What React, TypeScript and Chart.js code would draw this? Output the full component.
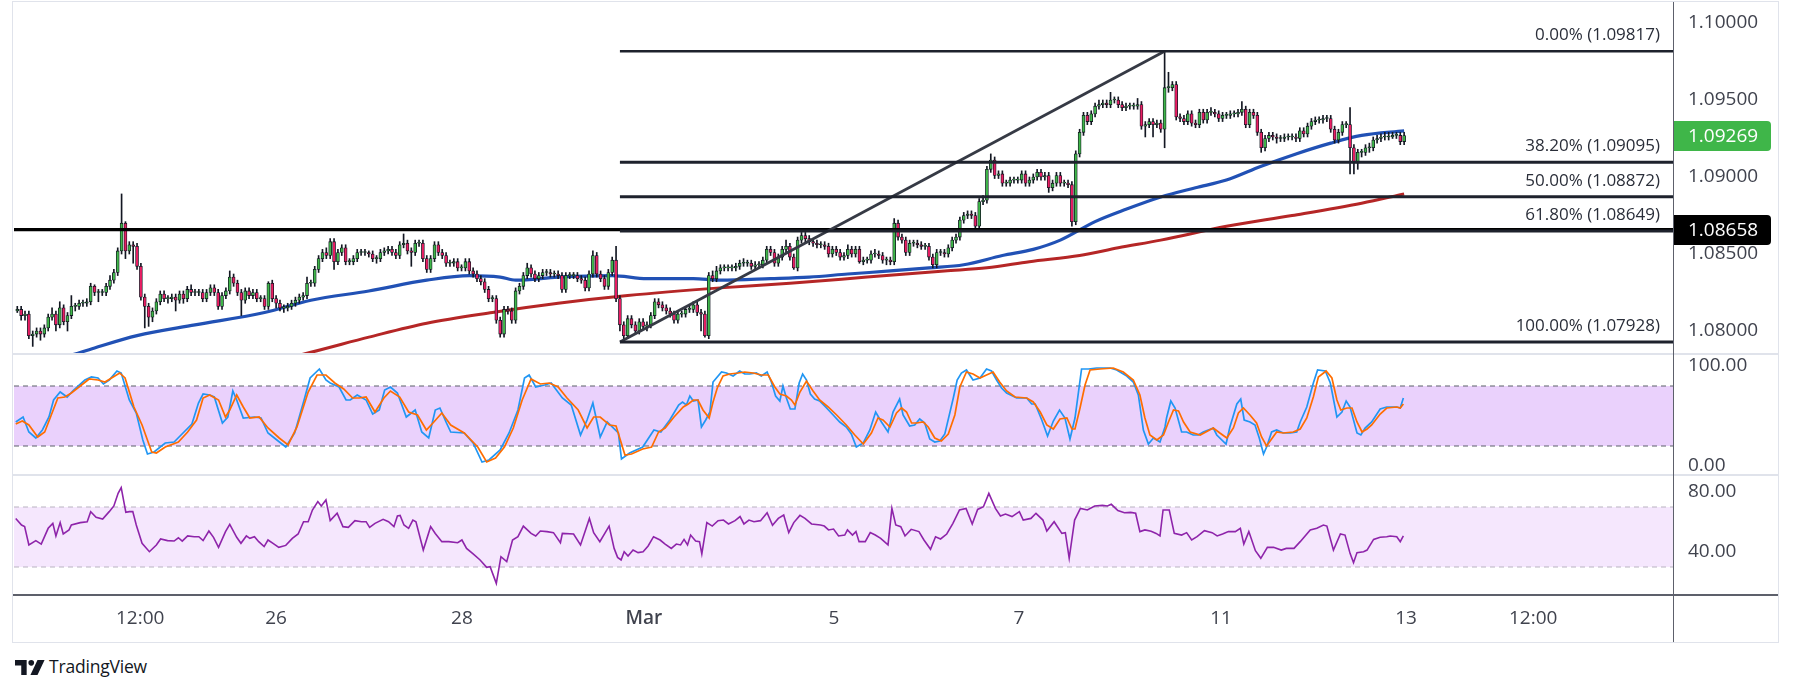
import React, { useEffect, useRef } from 'react';
import { Chart, registerables } from 'chart.js';

Chart.register(...registerables);

// ---------- DATA (EUR/USD 1H) ----------
const firstOpen = 1.0813;
const closes: number[] = [
  1.0814,1.0810,1.0811,1.0797,1.0798,1.0800,1.0798,1.0802,1.0809,1.0811,
  1.0804,1.0815,1.0806,1.0810,1.0816,1.0816,1.0818,1.0818,1.0819,1.0829,
  1.0825,1.0825,1.0825,1.0829,1.0833,1.0838,1.0852,1.0870,1.0852,1.0856,
  1.0855,1.0842,1.0822,1.0816,1.0809,1.0813,1.0819,1.0824,1.0821,1.0821,
  1.0822,1.0820,1.0824,1.0821,1.0827,1.0825,1.0825,1.0825,1.0821,1.0825,
  1.0828,1.0825,1.0816,1.0823,1.0826,1.0835,1.0831,1.0825,1.0820,1.0826,
  1.0823,1.0825,1.0821,1.0821,1.0816,1.0831,1.0821,1.0818,1.0815,1.0815,
  1.0816,1.0818,1.0820,1.0822,1.0823,1.0831,1.0831,1.0840,1.0847,1.0851,
  1.0849,1.0858,1.0845,1.0851,1.0854,1.0845,1.0845,1.0847,1.0851,1.0851,
  1.0851,1.0850,1.0847,1.0847,1.0851,1.0852,1.0853,1.0851,1.0849,1.0856,
  1.0857,1.0852,1.0851,1.0857,1.0857,1.0847,1.0840,1.0847,1.0856,1.0851,
  1.0849,1.0844,1.0844,1.0845,1.0841,1.0841,1.0845,1.0839,1.0837,1.0834,
  1.0832,1.0827,1.0821,1.0821,1.0807,1.0798,1.0814,1.0813,1.0807,1.0826,
  1.0829,1.0836,1.0841,1.0837,1.0834,1.0836,1.0838,1.0838,1.0837,1.0837,
  1.0836,1.0827,1.0836,1.0836,1.0836,1.0834,1.0833,1.0828,1.0837,1.0849,
  1.0837,1.0834,1.0829,1.0838,1.0846,1.0821,1.0804,1.0797,1.0808,1.0804,
  1.0800,1.0806,1.0803,1.0804,1.0810,1.0819,1.0817,1.0815,1.0813,1.0811,
  1.0807,1.0811,1.0811,1.0814,1.0814,1.0817,1.0812,1.0811,1.0797,1.0836,
  1.0834,1.0839,1.0841,1.0841,1.0841,1.0841,1.0842,1.0844,1.0844,1.0844,
  1.0842,1.0843,1.0843,1.0846,1.0853,1.0851,1.0844,1.0848,1.0853,1.0855,
  1.0848,1.0841,1.0859,1.0862,1.0860,1.0858,1.0857,1.0856,1.0856,1.0855,
  1.0850,1.0853,1.0851,1.0848,1.0849,1.0853,1.0850,1.0853,1.0845,1.0846,
  1.0846,1.0850,1.0850,1.0849,1.0846,1.0846,1.0845,1.0870,1.0861,1.0859,
  1.0851,1.0857,1.0857,1.0856,1.0855,1.0855,1.0848,1.0843,1.0851,1.0851,
  1.0850,1.0854,1.0859,1.0861,1.0872,1.0875,1.0876,1.0875,1.0868,1.0884,
  1.0885,1.0905,1.0911,1.0901,1.0902,1.0896,1.0896,1.0898,1.0898,1.0898,
  1.0902,1.0896,1.0898,1.0900,1.0903,1.0900,1.0901,1.0893,1.0896,1.0901,
  1.0896,1.0896,1.0895,1.0871,1.0915,1.0929,1.0940,1.0936,1.0941,1.0946,
  1.0947,1.0948,1.0947,1.0950,1.0950,1.0947,1.0945,1.0946,1.0946,1.0946,
  1.0947,1.0933,1.0934,1.0936,1.0934,1.0935,1.0931,1.0958,1.0958,1.0960,
  1.0939,1.0938,1.0936,1.0941,1.0935,1.0934,1.0942,1.0937,1.0942,1.0942,
  1.0941,1.0938,1.0940,1.0940,1.0941,1.0941,1.0942,1.0944,1.0934,1.0942,
  1.0940,1.0929,1.0919,1.0925,1.0927,1.0926,1.0925,1.0925,1.0926,1.0926,
  1.0926,1.0925,1.0930,1.0928,1.0933,1.0936,1.0937,1.0937,1.0938,1.0938,
  1.0931,1.0924,1.0929,1.0934,1.0934,1.0919,1.0909,1.0916,1.0916,1.0919,
  1.0919,1.0924,1.0925,1.0926,1.0926,1.0926,1.0927,1.0927,1.0923,1.09269,
];
const highs: number[] = [
  1.0816,1.0816,1.0813,1.0813,1.0800,1.0802,1.0802,1.0804,1.0811,1.0815,
  1.0813,1.0819,1.0817,1.0812,1.0823,1.0818,1.0820,1.0820,1.0821,1.0831,
  1.0830,1.0827,1.0827,1.0831,1.0836,1.0840,1.0854,1.0889,1.0871,1.0858,
  1.0858,1.0857,1.0844,1.0824,1.0818,1.0815,1.0821,1.0826,1.0826,1.0823,
  1.0824,1.0824,1.0826,1.0826,1.0829,1.0830,1.0827,1.0827,1.0827,1.0827,
  1.0830,1.0830,1.0827,1.0825,1.0828,1.0839,1.0837,1.0833,1.0827,1.0828,
  1.0828,1.0827,1.0827,1.0823,1.0823,1.0832,1.0833,1.0823,1.0820,1.0817,
  1.0818,1.0820,1.0822,1.0824,1.0825,1.0835,1.0833,1.0842,1.0849,1.0853,
  1.0854,1.0860,1.0860,1.0853,1.0856,1.0856,1.0847,1.0849,1.0853,1.0853,
  1.0853,1.0852,1.0852,1.0849,1.0853,1.0854,1.0855,1.0855,1.0853,1.0858,
  1.0863,1.0859,1.0854,1.0859,1.0859,1.0859,1.0849,1.0849,1.0858,1.0858,
  1.0853,1.0851,1.0846,1.0847,1.0847,1.0843,1.0847,1.0847,1.0841,1.0839,
  1.0836,1.0834,1.0829,1.0823,1.0823,1.0809,1.0816,1.0816,1.0815,1.0828,
  1.0831,1.0838,1.0844,1.0843,1.0839,1.0838,1.0840,1.0840,1.0840,1.0839,
  1.0839,1.0838,1.0838,1.0838,1.0838,1.0838,1.0836,1.0835,1.0839,1.0852,
  1.0851,1.0839,1.0836,1.0840,1.0848,1.0855,1.0823,1.0806,1.0810,1.0810,
  1.0806,1.0808,1.0808,1.0806,1.0812,1.0821,1.0821,1.0819,1.0817,1.0815,
  1.0813,1.0813,1.0813,1.0816,1.0817,1.0819,1.0819,1.0814,1.0813,1.0838,
  1.0839,1.0842,1.0843,1.0843,1.0843,1.0843,1.0844,1.0846,1.0847,1.0846,
  1.0846,1.0845,1.0845,1.0848,1.0855,1.0855,1.0853,1.0850,1.0855,1.0859,
  1.0857,1.0850,1.0861,1.0864,1.0864,1.0862,1.0860,1.0859,1.0858,1.0858,
  1.0857,1.0855,1.0855,1.0853,1.0851,1.0856,1.0855,1.0855,1.0855,1.0848,
  1.0848,1.0852,1.0853,1.0852,1.0851,1.0848,1.0848,1.0873,1.0872,1.0863,
  1.0861,1.0859,1.0859,1.0859,1.0858,1.0857,1.0857,1.0850,1.0853,1.0853,
  1.0853,1.0856,1.0861,1.0863,1.0874,1.0877,1.0878,1.0878,1.0877,1.0886,
  1.0888,1.0907,1.0915,1.0913,1.0904,1.0904,1.0898,1.0900,1.0900,1.0900,
  1.0904,1.0904,1.0900,1.0902,1.0905,1.0905,1.0903,1.0903,1.0898,1.0903,
  1.0903,1.0898,1.0898,1.0897,1.0917,1.0931,1.0942,1.0942,1.0943,1.0948,
  1.0950,1.0950,1.0950,1.0955,1.0952,1.0952,1.0949,1.0948,1.0948,1.0948,
  1.0951,1.0949,1.0936,1.0938,1.0938,1.0937,1.0937,1.09817,1.0968,1.0962,
  1.0962,1.0941,1.0940,1.0943,1.0943,1.0937,1.0944,1.0944,1.0944,1.0945,
  1.0944,1.0943,1.0942,1.0942,1.0943,1.0943,1.0944,1.0949,1.0946,1.0944,
  1.0944,1.0942,1.0931,1.0927,1.0929,1.0929,1.0928,1.0927,1.0928,1.0928,
  1.0928,1.0928,1.0932,1.0932,1.0935,1.0938,1.0939,1.0939,1.0940,1.0940,
  1.0940,1.0933,1.0931,1.0936,1.0936,1.0945,1.0921,1.0918,1.0918,1.0921,
  1.0922,1.0926,1.0927,1.0928,1.0929,1.0929,1.0929,1.0929,1.0929,1.0929,
];
const lows: number[] = [
  1.0812,1.0807,1.0807,1.0795,1.0790,1.0796,1.0794,1.0796,1.0800,1.0807,
  1.0800,1.0802,1.0804,1.0800,1.0808,1.0813,1.0814,1.0816,1.0816,1.0817,
  1.0823,1.0819,1.0823,1.0823,1.0827,1.0831,1.0836,1.0850,1.0847,1.0850,
  1.0844,1.0840,1.0820,1.0802,1.0803,1.0806,1.0811,1.0817,1.0819,1.0818,
  1.0819,1.0813,1.0818,1.0818,1.0819,1.0823,1.0823,1.0823,1.0819,1.0819,
  1.0823,1.0823,1.0814,1.0814,1.0821,1.0824,1.0829,1.0823,1.0810,1.0818,
  1.0821,1.0821,1.0819,1.0819,1.0814,1.0814,1.0819,1.0815,1.0813,1.0812,
  1.0813,1.0814,1.0816,1.0818,1.0820,1.0821,1.0829,1.0829,1.0838,1.0845,
  1.0847,1.0847,1.0840,1.0843,1.0849,1.0843,1.0843,1.0843,1.0845,1.0849,
  1.0849,1.0848,1.0845,1.0844,1.0845,1.0849,1.0850,1.0849,1.0847,1.0847,
  1.0854,1.0850,1.0842,1.0849,1.0855,1.0845,1.0838,1.0838,1.0845,1.0849,
  1.0847,1.0842,1.0842,1.0842,1.0839,1.0839,1.0839,1.0837,1.0835,1.0832,
  1.0830,1.0825,1.0819,1.0819,1.0805,1.0796,1.0796,1.0811,1.0805,1.0805,
  1.0824,1.0827,1.0834,1.0835,1.0832,1.0832,1.0834,1.0836,1.0835,1.0835,
  1.0834,1.0825,1.0825,1.0834,1.0834,1.0832,1.0831,1.0826,1.0826,1.0835,
  1.0835,1.0832,1.0827,1.0827,1.0836,1.0819,1.0800,1.07928,1.0795,1.0802,
  1.0798,1.0798,1.0801,1.0800,1.0802,1.0808,1.0815,1.0813,1.0811,1.0809,
  1.0805,1.0805,1.0809,1.0809,1.0812,1.0812,1.0810,1.0800,1.0796,1.0795,
  1.0832,1.0832,1.0837,1.0839,1.0839,1.0839,1.0839,1.0840,1.0842,1.0842,
  1.0840,1.0840,1.0841,1.0841,1.0844,1.0849,1.0842,1.0842,1.0846,1.0851,
  1.0846,1.0840,1.0839,1.0857,1.0858,1.0856,1.0855,1.0854,1.0854,1.0853,
  1.0848,1.0848,1.0849,1.0846,1.0846,1.0847,1.0848,1.0848,1.0844,1.0843,
  1.0844,1.0844,1.0848,1.0847,1.0844,1.0843,1.0843,1.0843,1.0859,1.0857,
  1.0849,1.0849,1.0855,1.0854,1.0853,1.0853,1.0846,1.0841,1.0841,1.0849,
  1.0848,1.0848,1.0852,1.0857,1.0859,1.0870,1.0873,1.0873,1.0866,1.0866,
  1.0882,1.0883,1.0903,1.0899,1.0899,1.0894,1.0894,1.0894,1.0896,1.0896,
  1.0896,1.0894,1.0894,1.0896,1.0898,1.0898,1.0898,1.0890,1.0891,1.0894,
  1.0894,1.0894,1.0893,1.0868,1.0869,1.0913,1.0927,1.0934,1.0934,1.0939,
  1.0944,1.0945,1.0945,1.0945,1.0948,1.0945,1.0943,1.0943,1.0944,1.0944,
  1.0944,1.0931,1.0926,1.0932,1.0926,1.0932,1.0929,1.0919,1.0955,1.0956,
  1.0937,1.0936,1.0934,1.0934,1.0933,1.0932,1.0932,1.0935,1.0935,1.0940,
  1.0939,1.0936,1.0936,1.0938,1.0938,1.0939,1.0939,1.0940,1.0932,1.0932,
  1.0938,1.0927,1.0916,1.0917,1.0923,1.0924,1.0922,1.0923,1.0923,1.0924,
  1.0924,1.0923,1.0923,1.0926,1.0926,1.0931,1.0934,1.0935,1.0935,1.0936,
  1.0929,1.0922,1.0922,1.0927,1.0932,1.0902,1.0902,1.0905,1.0913,1.0914,
  1.0916,1.0917,1.0922,1.0923,1.0924,1.0924,1.0925,1.0925,1.0921,1.0921,
];

// moving averages [bar index, price]
const maBlue: [number, number][] = [
  [-1,1.0774],[10,1.0781],[15,1.0785],[20,1.0789],[31,1.0797],[46,1.0804],[64,1.0812],[76,1.0820],
  [91,1.0826],[106,1.0833],[117,1.0836],[125,1.0835],[129,1.0833],[140,1.0835],[154,1.0836],[163,1.0834],
  [175,1.0834],[182,1.0833],[195,1.0834],[205,1.0835],[215,1.0837],[226,1.0839],[236,1.0841],[245,1.0843],
  [255,1.0849],[263,1.0853],[270,1.0859],[279,1.0871],[287,1.0879],[296,1.0887],[305,1.0893],[313,1.0898],
  [322,1.0907],[331,1.0915],[340,1.0922],[348,1.0927],[359,1.0930],
];
const maRed: [number, number][] = [
  [60,1.0778],[74,1.0785],[91,1.0796],[106,1.0805],[123,1.0812],[140,1.0818],[158,1.0823],[182,1.0828],
  [200,1.0831],[220,1.0835],[240,1.0839],[251,1.0841],[262,1.0845],[275,1.0849],[285,1.0854],[296,1.0859],
  [313,1.0868],[330,1.0875],[348,1.0883],[359,1.0889],
];

// Stochastic %K / %D  [bar index, value]
const stochK: [number, number][] = [
  [-0.4,44],[1.5,49],[3,34],[4.8,28],[6.5,36],[8.2,49],[9.4,66],[11.1,74],[12.9,69],[14.6,76],[17.5,86],[19.2,89],
  [20.9,88],[22.3,82],[23.8,86],[25.8,95],[26.9,93],[29,66],[30.8,53],[32.5,26],[33.7,12],[35.4,14],[38.3,23],
  [40.6,24],[42.9,33],[45.2,42],[46.9,63],[48.1,72],[49.8,71],[51,69],[53.1,43],[54.5,49],[55.8,75],[56.8,66],
  [58.5,48],[61.4,49],[63.1,48],[64.9,33],[67.2,26],[69.5,19],[71.8,33],[74.1,64],[75.8,88],[78.2,97],[79.9,86],
  [81,83],[83.3,79],[85.1,66],[86.2,66],[88,71],[90.3,66],[92,52],[93.7,56],[95.1,76],[96.6,79],[98.4,73],
  [100.7,49],[103,56],[104.7,34],[106.5,28],[108.2,56],[109.4,58],[111.1,43],[112.2,34],[115.7,33],[118,23],
  [120.3,4],[122.1,6],[125,16],[127.3,33],[129.6,56],[131.3,88],[132.5,91],[134.2,79],[136.5,81],[138.2,83],
  [141.1,68],[143.4,61],[145.8,31],[147.5,46],[149,63],[150.9,29],[152.7,44],[155.6,33],[156.4,7],[158.5,13],
  [161.9,19],[164.8,36],[166.6,34],[168.9,46],[171.2,61],[172.2,64],[173.2,61],[174.1,70],[175,65],[176.2,66],
  [177.1,39],[178.2,46],[179.3,54],[180.1,84],[182.3,94],[183.6,93],[185.3,90],[187,95],[188.3,92],[189.6,92],
  [191.3,93],[192.6,90],[194.1,94],[195.2,84],[196.3,70],[197.4,65],[198.2,80],[199.1,68],[200.1,57],[201.3,57],
  [202.4,83],[203.3,92],[204.3,86],[205.3,72],[206.4,67],[207.7,65],[209.5,58],[211.2,51],[212.9,44],[214.6,39],
  [215.9,32],[217.2,19],[219,23],[220.7,36],[222.2,54],[223.7,44],[225.4,34],[226.7,54],[228.4,67],[229.3,51],
  [231,40],[232.3,41],[233.6,47],[234.9,43],[236.2,27],[237.5,24],[238.8,25],[240.1,32],[242.3,68],[243.3,86],
  [244.4,93],[245.7,96],[247.4,86],[249.2,88],[250.9,97],[252.2,95],[253.5,86],[254.8,78],[256.1,73],[258.7,68],
  [261.3,68],[262.6,62],[263.5,62],[265.2,46],[266.7,30],[268.2,45],[269.8,56],[271.2,48],[272.5,27],[273.8,48],
  [275.5,97],[277.3,97],[279.4,98],[282.9,98],[284.6,96],[287.2,90],[288.9,84],[290.2,71],[291.5,36],[292.8,22],
  [294.1,28],[295.8,24],[297.1,39],[297.5,48],[298.6,65],[299.7,58],[301.4,34],[302.7,34],[304.4,31],[305.7,31],
  [307,34],[309.6,38],[310.5,31],[312.9,22],[313.9,39],[315.7,62],[316.7,67],[317.6,46],[319.1,44],[320.4,41],
  [321.5,28],[322.6,12],[323.4,19],[324.7,34],[326,36],[327.7,33],[329.5,33],[331.2,34],[332.1,44],[333.8,59],
  [335.5,83],[336.6,96],[338.6,95],[339.9,83],[341.6,49],[342.9,54],[344,65],[345,59],[346.8,33],[347.8,31],
  [348.9,38],[350.6,44],[352.8,57],[354.5,59],[357.1,59],[358,58],[358.8,68],
];
const stochD: [number, number][] = [
  [-0.4,42],[1.3,45],[3,41],[5.3,29],[7.1,34],[8.8,51],[10.5,68],[12.3,69],[14,73],[16.3,80],[18.6,87],[20.9,86],
  [22.7,84],[24.4,88],[26.5,93],[27.9,88],[30.2,59],[32.3,41],[34.8,14],[36,13],[38.3,19],[41.7,24],[44.1,34],
  [46.4,46],[48.1,68],[49.8,71],[52.1,66],[53.9,49],[55,56],[56.8,71],[58.5,59],[60.2,48],[62.6,49],[64.9,38],
  [67.8,28],[70.1,21],[72.4,39],[75.3,74],[77.6,91],[79.9,91],[82.2,83],[84.5,77],[86.8,68],[88.5,68],[90.3,69],
  [92.6,54],[94.9,68],[96.6,75],[99,69],[101.3,54],[103.6,51],[105.9,36],[107.6,43],[109.9,53],[112.2,41],
  [115.7,33],[119.2,19],[121.5,4],[123.8,8],[126.1,19],[128.4,38],[130.7,66],[133,87],[135.4,82],[137.7,83],
  [140,79],[142.3,68],[145.2,56],[147.5,38],[149.2,49],[150.9,49],[153.3,41],[155,40],[157.3,11],[159,12],
  [161.9,17],[164.2,19],[166,34],[167.7,38],[170,49],[172.4,59],[173.7,62],[175,66],[176.2,66],[177.5,56],
  [179.1,48],[180.1,64],[181.2,78],[182.7,90],[184.4,92],[186.6,93],[188.3,94],[190.5,93],[192.6,91],[194.4,91],
  [196.1,79],[197.4,72],[199.1,70],[200.4,66],[201.3,61],[202.6,74],[204.3,85],[206,75],[207.7,66],[209.9,59],
  [212.1,51],[214.6,41],[216.8,31],[219,22],[221.1,33],[222.8,48],[224.1,46],[225.9,39],[227.6,53],[228.9,58],
  [230.2,54],[231.5,43],[232.8,43],[234.5,44],[235.8,39],[237.5,28],[239.2,25],[241,32],[242.7,51],[244,79],
  [245.7,94],[247.4,92],[249.2,88],[250.9,91],[252.6,94],[254.3,84],[256.1,75],[258.3,69],[261.3,68],[263,64],
  [264.8,54],[266.5,41],[268.2,37],[269.9,47],[271.7,48],[273,37],[273.8,37],[275.1,58],[276.4,81],[277.7,96],
  [280.3,97],[283.7,98],[286.3,94],[288.9,86],[290.6,71],[291.9,48],[293.2,31],[295,26],[296.7,31],[298,44],
  [299.3,56],[300.6,55],[301.9,44],[303.6,34],[306.2,31],[309.6,38],[311.3,33],[313.1,28],[314.8,38],[316.1,53],
  [317.4,58],[319.1,51],[320.8,43],[322.1,29],[323.4,20],[326,34],[327.7,33],[330.3,34],[332.1,37],[333.8,48],
  [335.5,69],[336.8,89],[338.8,95],[340.3,88],[341.6,66],[342.6,56],[344.2,58],[345.5,58],[346.8,44],[348.1,34],
  [349.4,37],[350.6,41],[352.8,52],[354.5,58],[357.1,59],[358,58],[358.8,62],
];

// RSI [bar index, value]
const rsi: [number, number][] = [
  [-0.4,62.4],[1.1,58],[1.9,56.9],[3,44.7],[4.8,47.6],[6.2,45.3],[8,55.8],[9.2,59.1],[10,50.7],[11.1,59.6],
  [11.9,52],[13.4,54.7],[14,58],[16.3,59.6],[18.1,60.2],[19,66.9],[20.4,63.1],[22.1,62],[23.8,66.9],[25,70.7],
  [26.1,79.1],[26.9,82.9],[28.1,66.4],[29,66.9],[29.9,66.9],[30.8,58],[32.3,45.8],[34.2,40.2],[36,44.7],
  [37.1,48.7],[38.9,47.6],[40.6,47.3],[41.7,49.5],[42.7,47.3],[44.1,50.7],[45.8,50.2],[47,50.2],[48.1,47.6],
  [49.6,54],[50.8,49.8],[52.1,43.1],[53.9,53.6],[55,58.4],[56.8,49.8],[57.9,45.8],[59.3,50.7],[60.2,49.1],
  [61.4,50.2],[62.5,46.9],[63.9,43.6],[64.9,48],[66.2,45.8],[67.7,43.1],[69.5,44.4],[71.2,49.1],[72.7,52],
  [74.1,60.2],[75.3,60.2],[76.4,68],[77.8,73.6],[78.7,70.7],[79.9,74.7],[81,60.9],[82.8,65.8],[84.3,56.9],
  [85.7,56.4],[87.4,60.9],[89.1,60.2],[90.3,60.2],[91.2,56.4],[92.6,59.1],[94.7,61.8],[96.1,60.2],[97.5,56.9],
  [98.4,64],[99.1,64.4],[100.1,58],[101.3,55.8],[102.4,61.3],[103.2,60.2],[105.1,41.3],[107,56.9],[108.2,52.4],
  [109.9,46.9],[111.7,46.9],[114,46.2],[115.1,48],[116.3,42.4],[118,38.7],[119.8,34.7],[121.5,29.8],[122.4,30.2],
  [124,19.1],[125.2,36.9],[126.7,33.6],[128.2,48],[129.6,50.2],[131,57.3],[133,52.4],[134.2,50.7],[135.4,54],
  [137.1,53.6],[138.8,52.9],[140.6,46.2],[141.1,52.4],[144,52],[145.8,44.7],[148.1,62.4],[149.2,52.9],
  [150.8,46.9],[153.2,57.3],[154.5,42.4],[155.4,36.4],[156.3,34.7],[157.1,40.2],[158.1,37.3],[159.4,41.3],
  [160.7,39.6],[162,40.2],[163.3,44],[164.7,50.2],[166.4,48],[167.7,45.3],[169.3,42.4],[170.6,45.3],[171.7,44.7],
  [172.6,48.4],[173.5,44.7],[174.3,51.3],[175.6,47.3],[176.6,46.9],[177.2,38.7],[178.5,59.6],[179.9,57.3],
  [181.4,60.9],[182.8,61.3],[184.1,58.7],[185.8,60.9],[187.1,63.6],[188.1,58.7],[189.4,61.3],[190.7,60.2],
  [192.4,60.9],[194.1,66.2],[195.5,57.8],[197,62.4],[198.4,64.7],[199.7,52.9],[201,59.6],[202.6,64.4],[203.9,62.4],
  [205.6,58.7],[207.9,58],[208.9,57.3],[210,54.7],[211.3,55.3],[212.6,50.7],[214.2,51.3],[214.9,54.7],[216.2,51.3],
  [217.1,53.6],[217.9,46.9],[219.5,46.9],[220.8,52.9],[222.1,51.3],[223.5,49.1],[225.4,44.7],[226.4,69.1],
  [227.4,58],[228.7,56.9],[229.8,50.7],[231.4,55.1],[233.4,53.6],[234.7,48],[236.4,41.8],[237.7,50.2],[239,48.7],
  [240.6,52],[242.2,59.1],[243.9,68],[245.6,69.1],[247.2,58.7],[248.6,68.4],[250.1,70.2],[251.5,79.1],[253.2,69.1],
  [254.5,64],[255.8,65.3],[257.5,63.6],[259.4,66.9],[260.4,61.3],[262.4,62.4],[263.7,65.8],[265.5,61.3],[266.5,54],
  [268.4,60.2],[270.4,52.4],[271.3,52.9],[272.3,35.8],[273.7,61.3],[275.2,69.1],[277,68],[278.9,70.7],[280.9,71.1],
  [282.2,70.7],[283.2,71.8],[284.9,67.6],[286.6,66.2],[288.2,66.4],[289.5,65.8],[290.6,53.6],[291.9,54.7],
  [293.5,53.8],[294.8,52.4],[295.8,50.7],[296.6,68],[298.2,68],[299.5,52.4],[301.4,51.3],[302.7,52.9],[304,48],
  [305.4,50.2],[307.3,54.2],[309.3,52.9],[310.6,50.7],[312,52],[313.5,53.6],[315.3,53.6],[316.6,55.8],[317.5,45.3],
  [318.8,53.6],[320.5,40.9],[321.9,35.8],[323.6,43.1],[325.2,43.1],[327.2,41.3],[328.5,42.4],[330.5,42.4],
  [332.1,46.9],[334.7,54.7],[336.4,55.8],[338.1,58],[339,57.3],[340.7,41.3],[342.5,52],[343.7,51.3],[345,39.1],
  [345.9,32.9],[346.8,39.6],[348.5,40.2],[349.4,41.3],[351.1,48.4],[352.8,49.8],[354.5,50.2],[355.4,50.7],
  [357.1,50.2],[358,46.9],[358.8,50.7],
];

// Fibonacci retracement (from swing low to swing high)
const fibRatios = [0, 0.382, 0.5, 0.618, 1];
const fibPrices = [1.09817, 1.09095, 1.08872, 1.08649, 1.07928];
const fibStartIdx = 156;
const trendLine: [number, number][] = [[156, 1.07928], [297, 1.09817]];
const hLinePrice = 1.08658;
const lastPrice = 1.09269;

const priceTicks = [1.08, 1.085, 1.09, 1.095, 1.1];
const stochTicks = [0, 100];
const rsiTicks = [40, 80];
const timeTickIdx = [31.8, 67.0, 115.1, 162.2, 211.4, 259.3, 311.6, 359.5, 392.4];
const timeTickLabels = ['12:00', '26', '28', 'Mar', '5', '7', '11', '13', '12:00'];

// ---------- STYLE ----------
const FONT = "'Open Sans', 'DejaVu Sans', sans-serif";
const TEXT = '#40434e';
const GREEN = '#3fb649';
const PINK = '#e91e63';
const EDGE = '#131722';
const X_MIN = -0.85;
const X_MAX = 428.6;
const PRICE_MIN = 1.078506;
const PRICE_MAX = 1.101364;

const xHidden: any = { type: 'linear', min: X_MIN, max: X_MAX, display: false, offset: false };

function yAxis(min: number, max: number, ticks: number[], digits: number): any {
  return {
    position: 'right',
    min,
    max,
    grid: { display: false, drawTicks: false },
    border: { display: false },
    afterBuildTicks: (s: any) => { s.ticks = ticks.map((v) => ({ value: v })); },
    afterFit: (s: any) => { s.width = 105; s.paddingTop = 0; s.paddingBottom = 0; },
    ticks: {
      padding: 15,
      color: TEXT,
      font: { family: FONT, size: 19 },
      callback: (v: any) => Number(v).toFixed(digits),
    },
  };
}

const baseOptions = (padTop: number): any => ({
  animation: false,
  responsive: false,
  devicePixelRatio: 1,
  events: [],
  layout: { padding: { left: 14, right: 15, top: padTop, bottom: 0 } },
  plugins: { legend: { display: false }, tooltip: { enabled: false } },
});

const lineDs = (pts: [number, number][], color: string, width: number, order: number, extra: any = {}) => ({
  type: 'line',
  data: pts.map(([x, y]) => ({ x, y })),
  borderColor: color,
  borderWidth: width,
  pointRadius: 0,
  fill: false,
  order,
  ...extra,
});

const overlayPlugin = {
  id: 'tvOverlay',
  afterDatasetsDraw(chart: any) {
    const { ctx, chartArea, scales } = chart;
    ctx.save();
    ctx.font = `17px ${FONT}`;
    ctx.fillStyle = '#2a2e39';
    ctx.textAlign = 'right';
    ctx.textBaseline = 'middle';
    fibRatios.forEach((r, i) => {
      const py = scales.y.getPixelForValue(fibPrices[i]);
      ctx.fillText(`${(r * 100).toFixed(2)}% (${fibPrices[i].toFixed(5)})`, chartArea.right - 13, py - 16);
    });
    ctx.restore();
  },
  afterDraw(chart: any) {
    const { ctx, chartArea, scales } = chart;
    const box = (value: number, bg: string) => {
      const py = Math.round(scales.y.getPixelForValue(value));
      const x0 = chartArea.right;
      const w = 98;
      const h = 30;
      ctx.save();
      ctx.fillStyle = bg;
      ctx.beginPath();
      (ctx as any).roundRect(x0, py - h / 2, w, h, [0, 4, 4, 0]);
      ctx.fill();
      ctx.fillStyle = '#ffffff';
      ctx.font = `19px ${FONT}`;
      ctx.textAlign = 'left';
      ctx.textBaseline = 'middle';
      ctx.fillText(value.toFixed(5), x0 + 15, py + 1);
      ctx.restore();
    };
    box(lastPrice, GREEN);
    box(hLinePrice, '#000000');
  },
};

export default function App() {
  const mainRef = useRef<HTMLCanvasElement>(null);
  const stochRef = useRef<HTMLCanvasElement>(null);
  const rsiRef = useRef<HTMLCanvasElement>(null);

  useEffect(() => {
    Chart.defaults.font.family = FONT;
    const opens = closes.map((c, i) => (i === 0 ? firstOpen : closes[i - 1]));
    const wickData = closes.map((_, i) => ({ x: i, y: [lows[i], highs[i]] }));
    const bodyData = closes.map((c, i) => ({ x: i, y: [opens[i], c] }));
    const bodyColors = closes.map((c, i) => (c >= opens[i] ? GREEN : PINK));

    const fibDatasets = fibPrices.map((p, i) =>
      lineDs([[fibStartIdx, p], [X_MAX, p]], '#1e222d', i === 0 ? 2.6 : 3, 1)
    );

    const charts: Chart[] = [];

    charts.push(
      new Chart(mainRef.current as HTMLCanvasElement, {
        type: 'bar',
        data: {
          datasets: [
            lineDs(maRed, '#b52626', 3, 6, { cubicInterpolationMode: 'monotone' }),
            lineDs(maBlue, '#2151b5', 3.2, 5, { cubicInterpolationMode: 'monotone' }),
            {
              type: 'bar',
              data: wickData,
              backgroundColor: EDGE,
              borderWidth: 0,
              grouped: false,
              barPercentage: 1,
              categoryPercentage: 1,
              maxBarThickness: 1,
              order: 4,
            },
            {
              type: 'bar',
              data: bodyData,
              backgroundColor: bodyColors,
              borderColor: EDGE,
              borderWidth: 0.8,
              borderSkipped: false,
              minBarLength: 1,
              grouped: false,
              barPercentage: 1,
              categoryPercentage: 1,
              maxBarThickness: 3,
              order: 3,
            },
            lineDs([[X_MIN, hLinePrice], [X_MAX, hLinePrice]], '#000000', 3.2, 2),
            ...fibDatasets,
            lineDs(trendLine, '#363a45', 2.8, 1),
          ] as any,
        },
        options: {
          ...baseOptions(2),
          scales: {
            x: xHidden,
            y: yAxis(PRICE_MIN, PRICE_MAX, priceTicks, 5),
          },
        } as any,
        plugins: [overlayPlugin as any],
      })
    );

    charts.push(
      new Chart(stochRef.current as HTMLCanvasElement, {
        type: 'line',
        data: {
          datasets: [
            lineDs([[X_MIN, 80], [X_MAX, 80]], '#5d606b', 1.2, 11, {
              borderDash: [5, 4],
              fill: '+1',
              backgroundColor: 'rgb(234,209,252)',
            }),
            lineDs([[X_MIN, 20], [X_MAX, 20]], '#5d606b', 1.2, 10, { borderDash: [5, 4] }),
            lineDs(stochK, '#2196f3', 1.7, 1),
            lineDs(stochD, '#ff6d00', 1.7, 0),
          ] as any,
        },
        options: {
          ...baseOptions(1),
          scales: { x: xHidden, y: yAxis(-9, 111, stochTicks, 2) },
        } as any,
      })
    );

    charts.push(
      new Chart(rsiRef.current as HTMLCanvasElement, {
        type: 'line',
        data: {
          datasets: [
            lineDs([[X_MIN, 70], [X_MAX, 70]], '#b9b3c2', 1.1, 11, {
              borderDash: [5, 4],
              fill: '+1',
              backgroundColor: 'rgb(245,231,253)',
            }),
            lineDs([[X_MIN, 30], [X_MAX, 30]], '#b9b3c2', 1.1, 10, { borderDash: [5, 4] }),
            lineDs(rsi, '#8e24aa', 1.6, 0),
          ] as any,
        },
        options: {
          ...baseOptions(1),
          scales: {
            x: {
              type: 'linear',
              min: X_MIN,
              max: X_MAX,
              offset: false,
              position: 'bottom',
              grid: { display: false, drawTicks: false },
              border: { display: false },
              afterBuildTicks: (s: any) => { s.ticks = timeTickIdx.map((v) => ({ value: v })); },
              afterFit: (s: any) => { s.height = 48; s.paddingLeft = 0; s.paddingRight = 0; },
              ticks: {
                autoSkip: false,
                maxRotation: 0,
                padding: 13,
                color: TEXT,
                font: (c: any) => ({
                  family: FONT,
                  size: 19,
                  weight: timeTickLabels[c.index] === 'Mar' ? '600' : '400',
                }),
                callback: (_v: any, i: number) => timeTickLabels[i],
              },
            },
            y: yAxis(12, 90.67, rsiTicks, 2),
          },
        } as any,
      })
    );

    return () => charts.forEach((c) => c.destroy());
  }, []);

  const line = (style: React.CSSProperties) => (
    <div style={{ position: 'absolute', pointerEvents: 'none', ...style }} />
  );

  return (
    <div style={{ position: 'absolute', left: 0, top: 0, width: 1793, height: 695, background: '#ffffff', overflow: 'hidden' }}>
      <canvas ref={mainRef} width={1793} height={354} style={{ position: 'absolute', left: 0, top: 0, width: 1793, height: 354 }} />
      <canvas ref={stochRef} width={1793} height={121} style={{ position: 'absolute', left: 0, top: 354, width: 1793, height: 121 }} />
      <canvas ref={rsiRef} width={1793} height={167} style={{ position: 'absolute', left: 0, top: 475, width: 1793, height: 167 }} />

      {/* frame */}
      {line({ left: 12, top: 1, width: 1767, height: 642, boxSizing: 'border-box', border: '1px solid #e0e3eb' })}
      {line({ left: 13, top: 353, width: 1765, height: 2, background: '#e0e3eb' })}
      {line({ left: 13, top: 474, width: 1765, height: 2, background: '#e0e3eb' })}
      {line({ left: 13, top: 594, width: 1765, height: 1.5, background: '#5d606b' })}
      {line({ left: 1673, top: 2, width: 1.2, height: 640, background: '#5d606b' })}

      {/* TradingView logo */}
      <svg width="30" height="15" viewBox="0 0 36 18" style={{ position: 'absolute', left: 15, top: 660 }}>
        <path d="M0 0h14v18h-6.5v-11.5h-7.5z" fill="#131722" />
        <circle cx="19.5" cy="3.4" r="3.4" fill="#131722" />
        <path d="M27 0h8.5l-8.5 18h-8.5z" fill="#131722" />
      </svg>
      <span
        style={{
          position: 'absolute',
          left: 49,
          top: 658,
          fontFamily: FONT,
          fontSize: 17.5,
          lineHeight: 1,
          color: '#131722',
          letterSpacing: -0.2,
          whiteSpace: 'nowrap',
        }}
      >
        TradingView
      </span>
    </div>
  );
}
